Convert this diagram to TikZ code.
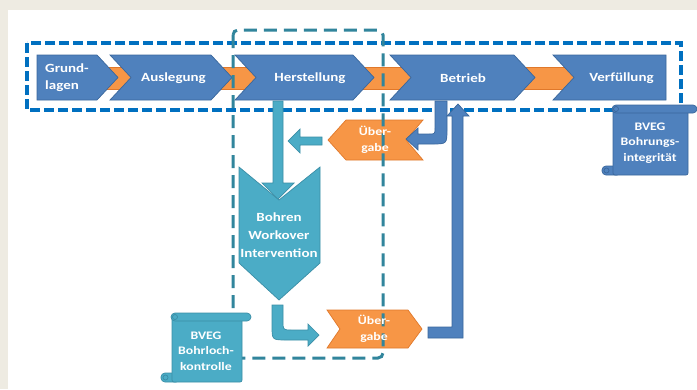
\documentclass[tikz,border=0pt]{standalone}
\usepackage{fontspec}
\usepackage{tikz}
\usetikzlibrary{calc}
\newfontfamily\lblfont[FakeStretch=1.2]{Carlito}
\definecolor{pagebg}{HTML}{EEEBE2}
\definecolor{chevblue}{HTML}{4F81BD}
\definecolor{chevline}{HTML}{3A679C}
\definecolor{bandorange}{HTML}{F79646}
\definecolor{bandline}{HTML}{E0782A}
\definecolor{tealfill}{HTML}{4BACC6}
\definecolor{tealline}{HTML}{3A8EA6}
\definecolor{framebl}{HTML}{0070C0}
\definecolor{frametl}{HTML}{31859C}
\tikzset{
  chevron/.style={fill=chevblue, draw=chevline, line width=0.7pt},
  band/.style={fill=bandorange, draw=bandline, line width=0.7pt},
  tealshape/.style={fill=tealfill, draw=tealline, line width=0.7pt},
  phase/.style={text=white, align=center, inner sep=0pt,
    font=\lblfont\bfseries\fontsize{12.5}{17}\selectfont},
  smalltext/.style={text=white, align=center, inner sep=0pt,
    font=\lblfont\bfseries\fontsize{11.5}{15.5}\selectfont},
  blueframe/.style={draw=framebl, line width=3.2pt, dash pattern=on 10pt off 4pt},
  tealframe/.style={draw=frametl, line width=3pt, dash pattern=on 13pt off 7pt, rounded corners=5pt},
}
% scroll: style, x1, y1, x2, y2
\newcommand{\scrollbox}[5]{%
  \filldraw[#1, rounded corners=4pt] ({#2-11},{#5-9}) rectangle ({#2+8},#5);
  \filldraw[#1, rounded corners=2pt] (#2,{#3+4}) rectangle (#4,#5);
  \filldraw[#1, rounded corners=4pt] ({#2-1},#3) rectangle ({#4+9},{#3+8});
  \draw[#1] ({#2+3},{#3+4}) circle (2.5pt);
  \draw[#1] ({#2-6.5},{#5-4.5}) circle (2.5pt);
}

\begin{document}
\begin{tikzpicture}[x=1pt,y=-1pt]
\def\rowT{55}
\def\rowB{100}
\def\rowM{77.5}
%%% page
\fill[pagebg] (0,0) rectangle (697,389);
\fill[white] (8,10) rectangle (697,389);
\useasboundingbox (0,0) rectangle (697,389);

%%% orange band behind the phases
\filldraw[band] (100,67) rectangle (590,89);

%%% phases
\filldraw[chevron] (37,\rowT) -- (97,\rowT) -- (118,\rowM) -- (97,\rowB) -- (37,\rowB) -- cycle;
\filldraw[chevron] (110,\rowT) -- (211,\rowT) -- (232,\rowM) -- (211,\rowB) -- (110,\rowB) -- (131,\rowM) -- cycle;
\filldraw[chevron] (235,\rowT) -- (353,\rowT) -- (374,\rowM) -- (353,\rowB) -- (235,\rowB) -- (256,\rowM) -- cycle;
\filldraw[chevron] (390,\rowT) -- (514,\rowT) -- (535,\rowM) -- (514,\rowB) -- (390,\rowB) -- (411,\rowM) -- cycle;
\filldraw[chevron] (553,\rowT) -- (666,\rowT) -- (666,\rowB) -- (553,\rowB) -- (574,\rowM) -- cycle;

%%% frame life cycle
\draw[blueframe] (27,43) rectangle (681,110);

%%% Bohren chevron
\filldraw[tealshape] (239,167) -- (279,200) -- (320,167) -- (320,263) -- (279,300) -- (239,263) -- cycle;

%%% Uebergabe (top, to the left)
\filldraw[band] (328,140) -- (346,120) -- (423,120) -- (406,140) -- (423,160) -- (346,160) -- cycle;
%%% Uebergabe (bottom, to the right)
\filldraw[band] (327,310) -- (408,310) -- (422,329) -- (408,348) -- (327,348) -- (340,329) -- cycle;

%%% block arrows
% Herstellung -> Bohren
\filldraw[tealshape] (273,101) -- (283,101) -- (283,183) -- (294,183) -- (278,199) -- (262,183) -- (273,183) -- cycle;
% Uebergabe -> Bohren side
\filldraw[tealshape] (322,137) -- (300,137) -- (300,129) -- (288,141) -- (300,153) -- (300,145) -- (322,145) -- cycle;
% Bohren -> Uebergabe
\filldraw[tealshape] (272,305) -- (283,305) -- (283,321) .. controls (283,330) .. (292,330) -- (308,330) -- (308,324)
  -- (319,335) -- (308,346) -- (308,340) -- (287,340) .. controls (272,340) .. (272,326) -- cycle;
% Betrieb -> Uebergabe
\filldraw[chevron] (435,101) -- (447,101) -- (447,129) .. controls (447,144) .. (432,144) -- (418,144) -- (418,150)
  -- (406,139) -- (418,128) -- (418,134) -- (429,134) .. controls (435,134) .. (435,128) -- cycle;
% Uebergabe -> Betrieb
\filldraw[chevron] (428,327) -- (452,327) -- (452,116) -- (447,116) -- (458,104) -- (469,116) -- (463,116)
  -- (463,338) -- (428,338) -- cycle;

%%% frame well work
\draw[tealframe] (233,30) rectangle (383,358);

%%% rules
\scrollbox{chevron}{613}{105}{688}{175}
\scrollbox{tealshape}{172}{313}{242}{382}

%%% labels
\node[phase, anchor=west, align=left] (grund) at (45,78) {Grund-\\lagen};
\node[phase] (ausl) at (173.5,78) {Auslegung};
\node[phase] (herst) at (310,78) {Herstellung};
\node[phase] (betr) at (463,78) {Betrieb};
\node[phase] (verf) at (621.5,78) {Verfüllung};
\node[phase, font=\lblfont\bfseries\fontsize{12.5}{18}\selectfont] (bohren) at (279,235) {Bohren\\Workover\\Intervention};
\node[smalltext] (uebA) at (375,140) {Über-\\gabe};
\node[smalltext] (uebB) at (374,329) {Über-\\gabe};
\node[smalltext] (integ) at (650,143) {BVEG\\Bohrungs-\\integrität};
\node[smalltext] (kontr) at (206,351) {BVEG\\Bohrloch-\\kontrolle};

\end{tikzpicture}
\end{document}
